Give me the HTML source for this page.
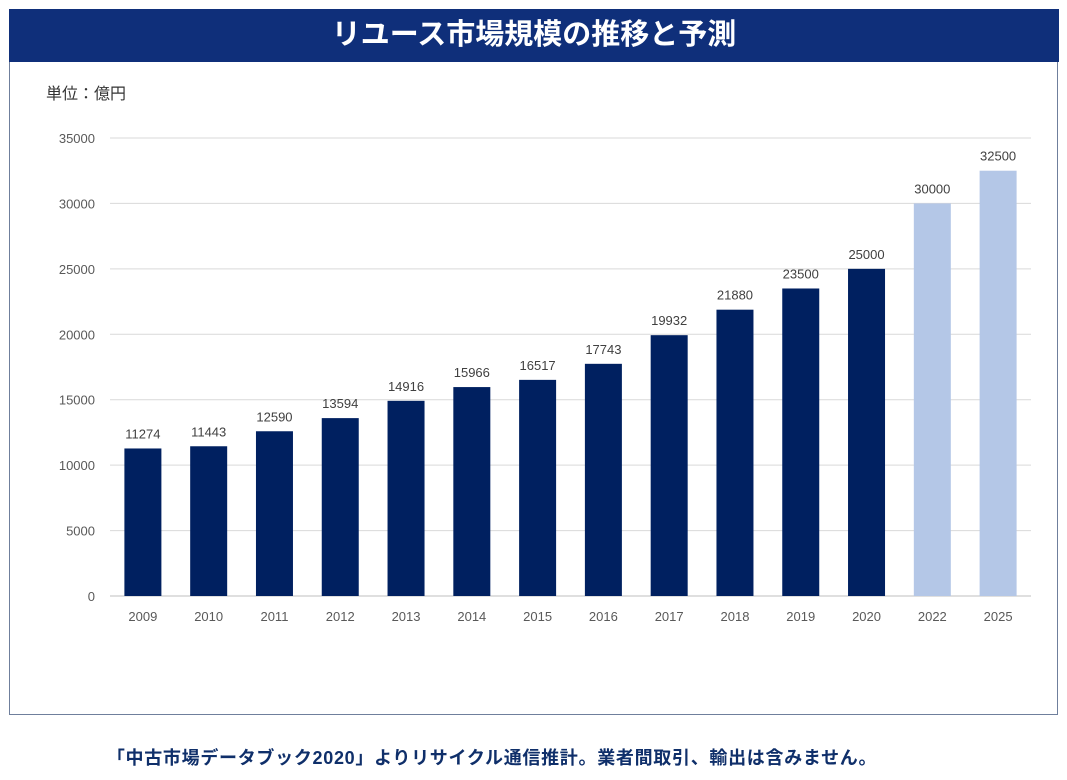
<!DOCTYPE html>
<html><head><meta charset="utf-8"><style>
body{margin:0;width:1067px;height:780px;background:#fff;overflow:hidden;font-family:"Liberation Sans","Noto Sans CJK JP",sans-serif;}
#title{position:absolute;left:9px;top:9px;width:1050px;height:53px;background:#0f2f7a;color:#fff;font-weight:bold;font-size:29px;text-align:center;line-height:53px;}
#frame{position:absolute;left:9px;top:62px;width:1047px;height:652px;border:1.5px solid #6f7f9c;border-top:none;}
#unit{position:absolute;left:46px;top:80px;font-size:16px;color:#333;}
#foot{position:absolute;left:0;width:984px;top:744px;text-align:center;font-size:18px;letter-spacing:0.7px;font-weight:bold;color:#0f2f6a;white-space:nowrap;}
svg{position:absolute;left:0;top:0;}
</style></head><body>
<div id="title">リユース市場規模の推移と予測</div>
<div id="frame"></div>
<div id="unit">単位：億円</div>
<svg id="chart" width="1067" height="780"></svg>
<div id="foot">「中古市場データブック2020」よりリサイクル通信推計。業者間取引、輸出は含みません。</div>
<script>
const categories=["2009","2010","2011","2012","2013","2014","2015","2016","2017","2018","2019","2020","2022","2025"];
const values=[11274,11443,12590,13594,14916,15966,16517,17743,19932,21880,23500,25000,30000,32500];
const forecast=[false,false,false,false,false,false,false,false,false,false,false,false,true,true];
const yTicks=[0,5000,10000,15000,20000,25000,30000,35000];
const NS="http://www.w3.org/2000/svg";
const svg=document.getElementById('chart');
const x0=110,x1=1031,yBase=596,yTop=138,yMax=35000;
const y=v=>yBase-(v/yMax)*(yBase-yTop);
const step=(x1-x0)/categories.length;
const xc=i=>x0+step*(i+0.5);
function mk(t,a){const e=document.createElementNS(NS,t);for(const k in a)e.setAttribute(k,a[k]);svg.appendChild(e);return e;}
yTicks.forEach(v=>{
 const l=mk('line',{x1:x0,x2:x1,y1:y(v),y2:y(v),stroke:v===0?'#bfbfbf':'#d9d9d9','stroke-width':1});
 
 
 const t=mk('text',{x:95,y:y(v)+5,'text-anchor':'end','font-size':13,fill:'#595959','font-family':'Liberation Sans, sans-serif'});
 t.textContent=v;
 
 
});
categories.forEach((c,i)=>{
 const bw=37;
 const r=mk('rect',{x:xc(i)-bw/2,y:y(values[i]),width:bw,height:yBase-y(values[i]),fill:forecast[i]?'#b4c7e7':'#002060'});
 
 
 const t=mk('text',{x:xc(i),y:y(values[i])-10,'text-anchor':'middle','font-size':13,fill:'#404040','font-family':'Liberation Sans, sans-serif'});
 t.textContent=values[i];
 
 
 const xl=mk('text',{x:xc(i),y:621,'text-anchor':'middle','font-size':13,fill:'#595959','font-family':'Liberation Sans, sans-serif'});
 xl.textContent=c;
 
 
});
</script>
</body></html>
